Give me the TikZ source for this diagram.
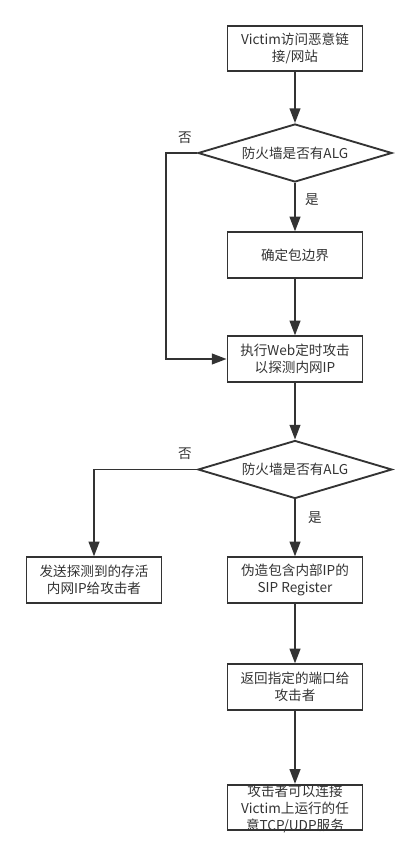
\documentclass[tikz,border=0pt]{standalone}
\usepackage{fontspec}
\newfontfamily\cjk{Noto Sans CJK SC}
\usepackage{tikz}
\usetikzlibrary{positioning, shapes, arrows.meta, shapes.geometric}
\definecolor{linegray}{HTML}{333333}

\begin{document}
\begin{tikzpicture}[
    x=0.75pt, y=-0.75pt,
    % Flow chart styles
    box/.style={
        rectangle,
        minimum width=101.25pt,
        minimum height=34pt,
        draw=linegray,
        line width=1.4pt,
        align=center,
        inner sep=0pt,
        text=linegray,
        font=\cjk\fontsize{10.2}{13}\selectfont
    },
    decision/.style={box, diamond, aspect=3.3, minimum width=145.5pt, minimum height=43.5pt},
    boxtext/.style={align=center, inner sep=0pt, text=linegray, font=\cjk\fontsize{10.2}{12.5}\selectfont},
    yesno/.style={inner sep=0pt, text=linegray, font=\cjk\fontsize{10.2}{12}\selectfont},
    arrow/.style={draw=linegray, line width=1.4pt, -{Triangle[length=11pt, width=8pt]}}
]
\useasboundingbox (0,0) rectangle (417,855);

% Main column
\node[box] (visit) at (295, 48.5) {Victim访问恶意链\\接/网站};
\node[decision] (alg1) at (295, 153) {防火墙是否有ALG};
\node[box] (bound) at (295, 255) {确定包边界};
\node[box] (probe) at (295, 359) {执行Web定时攻击\\以探测内网IP};
\node[decision] (alg2) at (295, 469.5) {防火墙是否有ALG};
\node[box] (forge) at (295, 580) {伪造包含内部IP的\\SIP Register};
\node[box] (port) at (295, 687) {返回指定的端口给\\攻击者};
\node[box] (connect) at (295, 807.5) {};
\node[boxtext] (connecttext) at (295, 809) {攻击者可以连接\\Victim上运行的任\\意TCP/UDP服务};

% Left branch
\node[box] (send) at (94, 580) {发送探测到的存活\\内网IP给攻击者};

% Corners
\coordinate (bypass) at (166, 153);

% Connectors
\draw[arrow] (visit) -- (alg1);
\draw[arrow] (alg1) -- (bound);
\draw[arrow] (bound) -- (probe);
\draw[arrow] (alg1.west) -- (bypass) |- (probe.west);
\draw[arrow] (probe) -- (alg2);
\draw[arrow] (alg2.west) -| (send.north);
\draw[arrow] (alg2) -- (forge);
\draw[arrow] (forge) -- (port);
\draw[arrow] (port) -- (connect);

% Yes / no labels
\node[yesno] (no1) at (185, 138) {否};
\node[yesno] (yes1) at (312, 200) {是};
\node[yesno] (no2) at (185, 454) {否};
\node[yesno] (yes2) at (315, 518) {是};
\end{tikzpicture}
\end{document}
